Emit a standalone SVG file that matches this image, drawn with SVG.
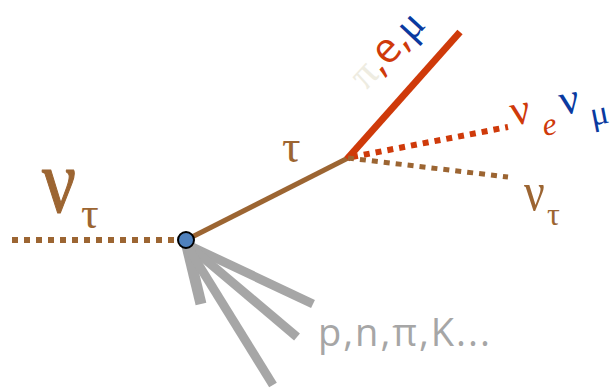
<svg xmlns="http://www.w3.org/2000/svg" width="612" height="389" viewBox="0 0 612 389">
<style>
.brown{stroke:#9c6532;fill:none}
.red{stroke:#cf3a0a;fill:none}
.gray{stroke:#a6a6a6;fill:none;stroke-linecap:butt}
.dot{stroke-dasharray:6 6}
.g{font-family:"Liberation Serif","DejaVu Serif",serif}
.s{font-family:"Open Sans","Liberation Sans",sans-serif}
.b{stroke-width:1.2;stroke-linejoin:round}
</style>
<g id="connectors">
<line class="brown dot" x1="12" y1="240" x2="180" y2="240" stroke-width="6"/>
<line class="brown" x1="188" y1="239" x2="348" y2="158" stroke-width="5"/>
<line class="red" x1="347" y1="159" x2="460" y2="32" stroke-width="7"/>
<line class="red dot" x1="352" y1="157" x2="508" y2="127" stroke-width="6"/>
<line class="brown dot" x1="348" y1="158" x2="508" y2="177" stroke-width="5"/>
<line class="gray" x1="187" y1="246" x2="201" y2="304" stroke-width="11"/>
<line class="gray" x1="188" y1="245" x2="313" y2="304" stroke-width="9"/>
<line class="gray" x1="188" y1="245" x2="297" y2="337" stroke-width="9"/>
<line class="gray" x1="187" y1="246" x2="273" y2="385" stroke-width="9"/>
</g>
<g id="vertex"><circle cx="186" cy="240" r="8" fill="#4f81bd" stroke="#000" stroke-width="2"/></g>
<g id="nu-tau-in" class="g" fill="#9c6532">
<text class="b" stroke="#9c6532" transform="translate(42,212) scale(0.82,1)" font-size="92">ν</text>
<text x="81" y="228" font-size="44">τ</text>
</g>
<g id="tau-label" class="g" fill="#9c6532"><text x="282" y="162" font-size="46">τ</text></g>
<g id="charged" transform="translate(366,91) rotate(-47)">
<text font-size="42"><tspan class="g" fill="#eeece1">π</tspan><tspan class="s" fill="#cf3a0a">,e,</tspan><tspan class="g" fill="#0a3aa0">μ</tspan></text>
</g>
<g id="nu-e-mu" class="g" transform="translate(512,127) rotate(-11)">
<text x="1" y="-1" font-size="44" fill="#cf3a0a">ν</text>
<text x="30" y="15" font-size="32" font-style="italic" fill="#cf3a0a">e</text>
<text x="51" y="-2" font-size="44" fill="#0a3aa0">ν</text>
<text x="79" y="14" font-size="34" fill="#0a3aa0">μ</text>
</g>
<g id="nu-tau-out" class="g" fill="#9c6532">
<text transform="translate(524,210) scale(0.85,1)" font-size="54">ν</text>
<text x="547" y="225" font-size="32">τ</text>
</g>
<g id="hadrons"><text class="s" x="318" y="346" font-size="38" letter-spacing="2" fill="#a6a6a6">p,n,π,K...</text></g>
</svg>
